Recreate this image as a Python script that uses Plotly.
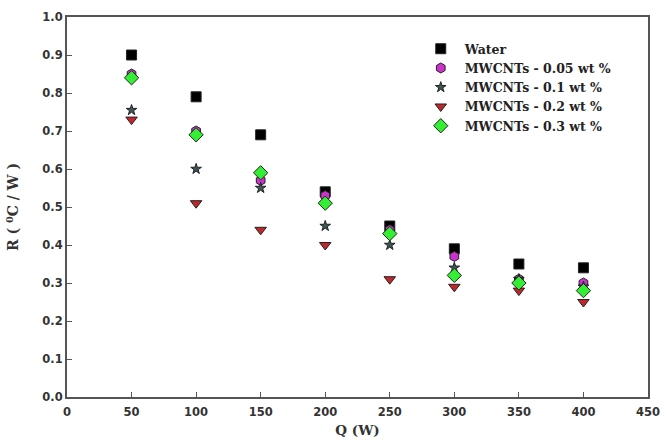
import plotly.graph_objects as go

Q = [50, 100, 150, 200, 250, 300, 350, 400]
water = [0.90, 0.79, 0.69, 0.54, 0.45, 0.39, 0.35, 0.34]
mw005 = [0.85, 0.70, 0.57, 0.53, 0.44, 0.37, 0.31, 0.30]
mw01 = [0.755, 0.60, 0.55, 0.45, 0.40, 0.34, 0.31, 0.29]
mw02 = [0.73, 0.51, 0.44, 0.40, 0.31, 0.29, 0.28, 0.25]
mw03 = [0.84, 0.69, 0.59, 0.51, 0.43, 0.32, 0.30, 0.28]

names = ["Water", "MWCNTs - 0.05 wt %", "MWCNTs - 0.1 wt %", "MWCNTs - 0.2 wt %", "MWCNTs - 0.3 wt %"]
series = [water, mw005, mw01, mw02, mw03]
symbols = ["square", "hexagon", "star", "triangle-down", "diamond"]
colors = ["#000000", "#cc33cc", "#3d5555", "#c0272d", "#33ee33"]
sizes = [10, 10, 8, 10, 11]

fig = go.Figure()
for n, s, sym, c, sz in zip(names, series, symbols, colors, sizes):
    fig.add_trace(go.Scatter(
        x=Q, y=s, mode="markers", name=n,
        marker=dict(symbol=sym, color=c, size=sz, line=dict(color="#222222", width=1)),
    ))

axis_common = dict(
    showline=True, linecolor="#555555", linewidth=2, mirror=True,
    ticks="inside", ticklen=5, tickcolor="#555555", tickwidth=1,
    showgrid=False, zeroline=False,
    tickfont=dict(family="DejaVu Sans", size=11.5, color="#333333", weight="bold"),
)

fig.update_layout(
    width=670, height=446,
    margin=dict(l=67, r=15, t=10, b=49),
    plot_bgcolor="white", paper_bgcolor="white",
    xaxis=dict(range=[0, 450], dtick=50, ticklabelstandoff=3,
               title=dict(text="Q (W)", standoff=8,
                          font=dict(family="DejaVu Serif", size=13.5, color="#333333", weight="bold")),
               **axis_common),
    yaxis=dict(range=[0, 1.0], dtick=0.1, tickformat=".1f",
               title=dict(text="R ( <sup>0</sup>C / W )", standoff=20,
                          font=dict(family="DejaVu Serif", size=14, color="#333333", weight="bold")),
               **axis_common),
    legend=dict(x=0.602, y=0.955, xanchor="left", yanchor="top",
                bgcolor="rgba(0,0,0,0)", borderwidth=0, tracegroupgap=0, itemwidth=38,
                font=dict(family="DejaVu Serif", size=12.5, color="#222222", weight="bold")),
)

fig.write_html("out.html")
